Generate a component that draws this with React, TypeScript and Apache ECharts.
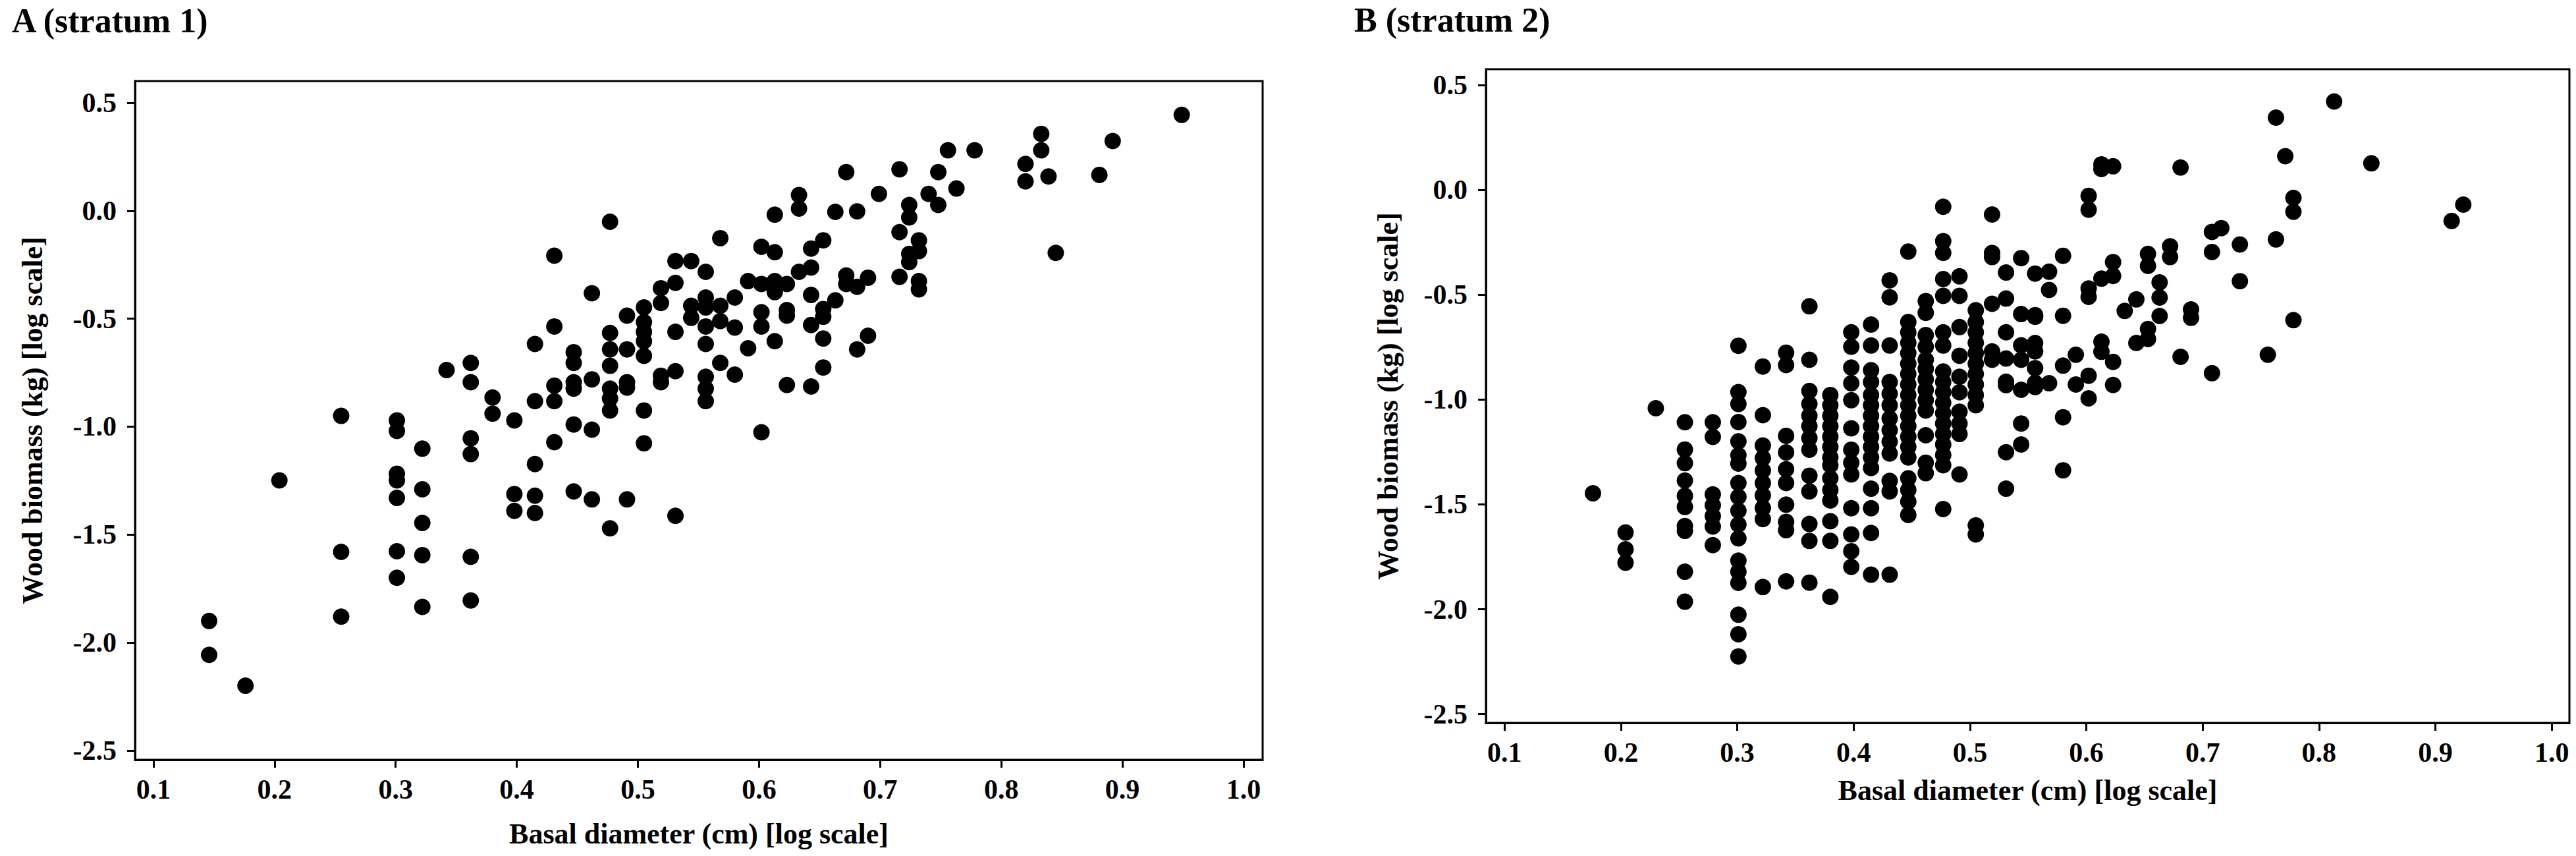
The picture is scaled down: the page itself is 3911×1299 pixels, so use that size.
import React, { useEffect, useRef } from "react";
import * as echarts from "echarts";

// Tick values shared by both panels
const X_TICKS = [0.1, 0.2, 0.3, 0.4, 0.5, 0.6, 0.7, 0.8, 0.9, 1.0];
const Y_TICKS = [-2.5, -2.0, -1.5, -1.0, -0.5, 0.0, 0.5];

const PANEL_TITLES = ["A (stratum 1)", "B (stratum 2)"];
const X_NAME = "Basal diameter (cm) [log scale]";
const Y_NAME = "Wood biomass (kg) [log scale]";

// Stratum 1: log basal diameter columns and the log biomass values in each column
const s1Diameter = [
  0.146, 0.176, 0.204, 0.255, 0.301, 0.322, 0.342, 0.362, 0.38, 0.398, 0.415, 0.431,
  0.447, 0.462, 0.477, 0.491, 0.505, 0.519, 0.531, 0.544, 0.556, 0.568, 0.58, 0.591,
  0.602, 0.613, 0.623, 0.633, 0.643, 0.653, 0.663, 0.672, 0.681, 0.69, 0.699, 0.716,
  0.724, 0.732, 0.74, 0.748, 0.756, 0.763, 0.778, 0.82, 0.833, 0.839, 0.845, 0.881,
  0.892, 0.949,
];
const s1Biomass = [
  [-1.9, -2.057],
  [-2.2],
  [-1.249],
  [-0.95, -1.58, -1.88],
  [-0.971, -1.02, -1.218, -1.249, -1.33, -1.577, -1.7],
  [-1.102, -1.29, -1.446, -1.595, -1.835],
  [-0.738],
  [-0.705, -0.794, -1.054, -1.127, -1.603, -1.805],
  [-0.865, -0.94],
  [-0.971, -1.312, -1.39],
  [-0.617, -0.882, -1.173, -1.32, -1.4],
  [-0.208, -0.536, -0.81, -0.882, -1.072],
  [-0.655, -0.705, -0.794, -0.824, -0.99, -1.3],
  [-0.382, -0.781, -1.014, -1.337],
  [-0.051, -0.566, -0.642, -0.718, -0.824, -0.87, -0.925, -1.471],
  [-0.486, -0.642, -0.794, -0.819, -1.337],
  [-0.448, -0.516, -0.561, -0.604, -0.672, -0.925, -1.077],
  [-0.359, -0.427, -0.764, -0.794],
  [-0.233, -0.334, -0.561, -0.743, -1.413],
  [-0.233, -0.44, -0.496],
  [-0.283, -0.402, -0.448, -0.536, -0.617, -0.769, -0.824, -0.882],
  [-0.127, -0.44, -0.511, -0.705],
  [-0.402, -0.541, -0.759],
  [-0.326, -0.637],
  [-0.167, -0.339, -0.47, -0.536, -1.026],
  [-0.018, -0.192, -0.326, -0.377, -0.604],
  [-0.339, -0.46, -0.486, -0.807],
  [0.073, 0.01, -0.283],
  [-0.175, -0.263, -0.39, -0.529, -0.814],
  [-0.137, -0.455, -0.491, -0.592, -0.726],
  [-0.005, -0.415],
  [0.179, -0.3, -0.339],
  [-0.003, -0.352, -0.642],
  [-0.31, -0.579],
  [0.078],
  [0.192, -0.099, -0.306],
  [0.027, -0.031, -0.2, -0.238],
  [-0.137, -0.187, -0.326, -0.364],
  [0.078],
  [0.179, 0.027],
  [0.28],
  [0.103],
  [0.28],
  [0.217, 0.136],
  [0.356, 0.28],
  [0.159],
  [-0.195],
  [0.166],
  [0.323],
  [0.444],
];

// Stratum 2
const s2Diameter = [
  0.176, 0.204, 0.23, 0.255, 0.279, 0.301, 0.322, 0.342, 0.362, 0.38, 0.398, 0.415,
  0.431, 0.447, 0.462, 0.477, 0.491, 0.505, 0.519, 0.531, 0.544, 0.556, 0.568, 0.58,
  0.591, 0.602, 0.613, 0.623, 0.633, 0.643, 0.653, 0.663, 0.672, 0.681, 0.69, 0.708,
  0.716, 0.732, 0.756, 0.763, 0.771, 0.778, 0.813, 0.845, 0.914, 0.924,
];
const s2Biomass = [
  [-1.447],
  [-1.634, -1.714, -1.778],
  [-1.041],
  [-1.108, -1.238, -1.303, -1.386, -1.459, -1.512, -1.603, -1.626, -1.821, -1.964],
  [-1.108, -1.178, -1.452, -1.504, -1.556, -1.605, -1.694],
  [-0.743, -0.964, -1.021, -1.107, -1.199, -1.265, -1.305, -1.398, -1.464, -1.53, -1.596, -1.662, -1.768, -1.821, -1.874, -2.026, -2.119, -2.225],
  [-0.842, -1.074, -1.219, -1.279, -1.338, -1.398, -1.457, -1.517, -1.57, -1.894],
  [-0.776, -0.835, -1.173, -1.252, -1.332, -1.398, -1.501, -1.583, -1.623, -1.867],
  [-0.555, -0.81, -0.959, -1.021, -1.077, -1.127, -1.183, -1.239, -1.363, -1.438, -1.593, -1.674, -1.873],
  [-0.978, -1.027, -1.077, -1.127, -1.177, -1.226, -1.276, -1.313, -1.375, -1.431, -1.481, -1.58, -1.674, -1.941],
  [-0.679, -0.748, -0.847, -0.922, -1.003, -1.137, -1.239, -1.301, -1.357, -1.518, -1.643, -1.723, -1.798],
  [-0.642, -0.742, -0.86, -0.916, -0.978, -1.027, -1.077, -1.127, -1.177, -1.226, -1.276, -1.326, -1.425, -1.518, -1.636, -1.835],
  [-0.431, -0.512, -0.742, -0.916, -0.972, -1.027, -1.09, -1.146, -1.201, -1.257, -1.388, -1.438, -1.835],
  [-0.294, -0.63, -0.679, -0.729, -0.779, -0.829, -0.878, -0.928, -0.978, -1.027, -1.077, -1.127, -1.177, -1.226, -1.276, -1.375, -1.431, -1.487, -1.55],
  [-0.53, -0.586, -0.692, -0.748, -0.81, -0.853, -0.903, -0.953, -1.003, -1.052, -1.17, -1.301, -1.351],
  [-0.08, -0.244, -0.3, -0.425, -0.505, -0.679, -0.742, -0.866, -0.916, -0.965, -1.015, -1.065, -1.114, -1.164, -1.214, -1.264, -1.313, -1.522],
  [-0.412, -0.505, -0.654, -0.791, -0.891, -0.965, -1.058, -1.114, -1.164, -1.357],
  [-0.574, -0.63, -0.679, -0.729, -0.779, -0.829, -0.878, -0.928, -0.978, -1.027, -1.6, -1.643],
  [-0.117, -0.3, -0.32, -0.543, -0.77, -0.81],
  [-0.394, -0.518, -0.679, -0.804, -0.915, -0.931, -1.251, -1.425],
  [-0.325, -0.592, -0.741, -0.81, -0.953, -1.114, -1.214],
  [-0.399, -0.597, -0.605, -0.73, -0.77, -0.85, -0.92, -0.94],
  [-0.39, -0.477, -0.922],
  [-0.314, -0.6, -0.838, -1.084, -1.337],
  [-0.786, -0.928],
  [-0.028, -0.094, -0.47, -0.51, -0.886, -0.994],
  [0.122, 0.1, -0.423, -0.724, -0.772],
  [0.113, -0.344, -0.41, -0.82, -0.93],
  [-0.577],
  [-0.522, -0.73],
  [-0.305, -0.362, -0.663, -0.711],
  [-0.441, -0.513, -0.601],
  [-0.269, -0.32],
  [0.107, -0.796],
  [-0.57, -0.61],
  [-0.2, -0.296, -0.874],
  [-0.182],
  [-0.26, -0.435],
  [-0.786],
  [0.345, -0.236],
  [0.161],
  [-0.038, -0.104, -0.621],
  [0.422],
  [0.127],
  [-0.148],
  [-0.07],
];

const FONT = "'Liberation Serif', 'Times New Roman', serif";

function toPoints(xs: number[], ys: number[][]): number[][] {
  return xs.flatMap((x, i) => ys[i].map((y) => [x, y]));
}

function makeXAxis(gridIndex: number, min: number, max: number, nameGap: number) {
  return {
    type: "value",
    gridIndex,
    min,
    max,
    name: X_NAME,
    nameLocation: "middle",
    nameGap,
    nameTextStyle: { fontFamily: FONT, fontWeight: "bold", fontSize: 44, color: "#000" },
    axisLine: { show: true, onZero: false, lineStyle: { color: "#000", width: 3 } },
    axisTick: {
      show: true,
      inside: false,
      length: 12,
      customValues: X_TICKS,
      lineStyle: { color: "#000", width: 3 },
    },
    axisLabel: {
      show: true,
      margin: 24,
      customValues: X_TICKS,
      formatter: (v: number) => v.toFixed(1),
      fontFamily: FONT,
      fontWeight: "bold",
      fontSize: 42,
      color: "#000",
    },
    splitLine: { show: false },
  };
}

function makeYAxis(gridIndex: number, min: number, max: number, nameGap: number) {
  return {
    type: "value",
    gridIndex,
    min,
    max,
    name: Y_NAME,
    nameLocation: "middle",
    nameGap,
    nameTextStyle: { fontFamily: FONT, fontWeight: "bold", fontSize: 44, color: "#000" },
    axisLine: { show: true, onZero: false, lineStyle: { color: "#000", width: 3 } },
    axisTick: {
      show: true,
      inside: false,
      length: 12,
      customValues: Y_TICKS,
      lineStyle: { color: "#000", width: 3 },
    },
    axisLabel: {
      show: true,
      margin: 28,
      customValues: Y_TICKS,
      formatter: (v: number) => v.toFixed(1),
      fontFamily: FONT,
      fontWeight: "bold",
      fontSize: 42,
      color: "#000",
    },
    splitLine: { show: false },
  };
}

export default function App() {
  const ref = useRef<HTMLDivElement>(null);

  useEffect(() => {
    if (!ref.current) return;
    const chart = echarts.init(ref.current, undefined, { renderer: "svg" });
    const titleStyle = { fontFamily: FONT, fontWeight: "bold", fontSize: 52, color: "#000" };
    const dotStyle = { color: "#000", opacity: 1 };
    chart.setOption({
      animation: false,
      backgroundColor: "#fff",
      title: [
        { text: PANEL_TITLES[0], left: 18, top: 5, textStyle: titleStyle, padding: 0 },
        { text: PANEL_TITLES[1], left: 2056, top: 4, textStyle: titleStyle, padding: 0 },
      ],
      grid: [
        { left: 205, top: 123, width: 1712, height: 1030, show: true, borderColor: "#000", borderWidth: 3, containLabel: false },
        { left: 2256, top: 105, width: 1645, height: 992, show: true, borderColor: "#000", borderWidth: 3, containLabel: false },
      ],
      xAxis: [makeXAxis(0, 0.0848, 1.0158, 90), makeXAxis(1, 0.084, 1.0152, 80)],
      yAxis: [makeYAxis(0, -2.543, 0.6007, 134), makeYAxis(1, -2.542, 0.576, 127)],
      series: [
        {
          type: "scatter",
          xAxisIndex: 0,
          yAxisIndex: 0,
          symbol: "circle",
          symbolSize: 25,
          itemStyle: dotStyle,
          emphasis: { disabled: true },
          data: toPoints(s1Diameter, s1Biomass),
        },
        {
          type: "scatter",
          xAxisIndex: 1,
          yAxisIndex: 1,
          symbol: "circle",
          symbolSize: 25,
          itemStyle: dotStyle,
          emphasis: { disabled: true },
          data: toPoints(s2Diameter, s2Biomass),
        },
      ],
    });
    return () => chart.dispose();
  }, []);

  return (
    <div
      ref={ref}
      style={{ position: "absolute", left: 0, top: 0, width: 3911, height: 1299, background: "#fff" }}
    />
  );
}
